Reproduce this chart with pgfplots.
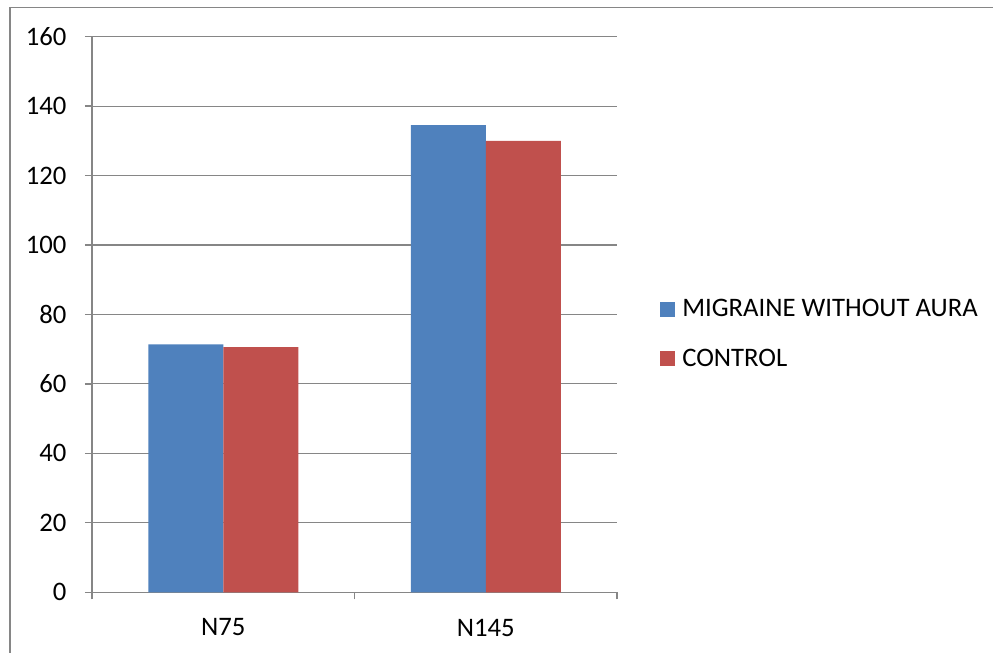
\documentclass[border=0pt]{standalone}
\usepackage{fontspec}
\setmainfont{Carlito}
\usepackage{pgfplots}
\pgfplotsset{compat=1.18}
\definecolor{barblue}{HTML}{4F81BD}
\definecolor{barred}{HTML}{C0504D}
\definecolor{axisgray}{HTML}{868686}
\newcommand{\chartfont}{\fontsize{26.7}{31}\selectfont}
\begin{document}
\begin{tikzpicture}[x=1pt,y=1pt]
\useasboundingbox (0,0) rectangle (993,653);
% outer chart frame
\draw[axisgray, line width=1.5pt] (10,-5) -- (10,645.7) -- (1000,645.7);
\begin{axis}[
  at={(92pt,60.7pt)}, anchor=south west,
  scale only axis, width=525pt, height=555.6pt,
  xmin=-0.5, xmax=1.5, ymin=0, ymax=160,
  ybar=0pt, bar width=75pt,
  separate axis lines,
  axis x line*=bottom, axis y line*=left,
  axis line style={axisgray, line width=1.3pt, -},
  xtick={-0.5,0.5,1.5}, x tick label as interval,
  xticklabels={N75,N145},
  ytick={0,20,...,160},
  tick align=outside, major tick length=7pt,
  tick style={axisgray, line width=1.3pt},
  ymajorgrids, grid style={axisgray, line width=1.1pt},
  /pgf/number format/assume math mode=true,
  tick label style={font=\chartfont, black},
  yticklabel style={xshift=-15pt},
  xticklabel style={yshift=-16pt},
  legend style={at={(1.082,0.465)}, anchor=west, draw=none, fill=none,
    font=\chartfont, row sep=27pt, inner sep=0pt,
    /tikz/every odd column/.append style={column sep=5pt}},
  legend cell align=left,
  legend image code/.code={\fill[#1] (0pt,-7.5pt) rectangle (15pt,7.5pt);},
]
\addplot[fill=barblue, draw=none] coordinates {(0,71.4) (1,134.5)};
\addplot[fill=barred, draw=none] coordinates {(0,70.6) (1,130.0)};
\legend{MIGRAINE WITHOUT AURA, CONTROL}
\end{axis}
\end{tikzpicture}
\end{document}
